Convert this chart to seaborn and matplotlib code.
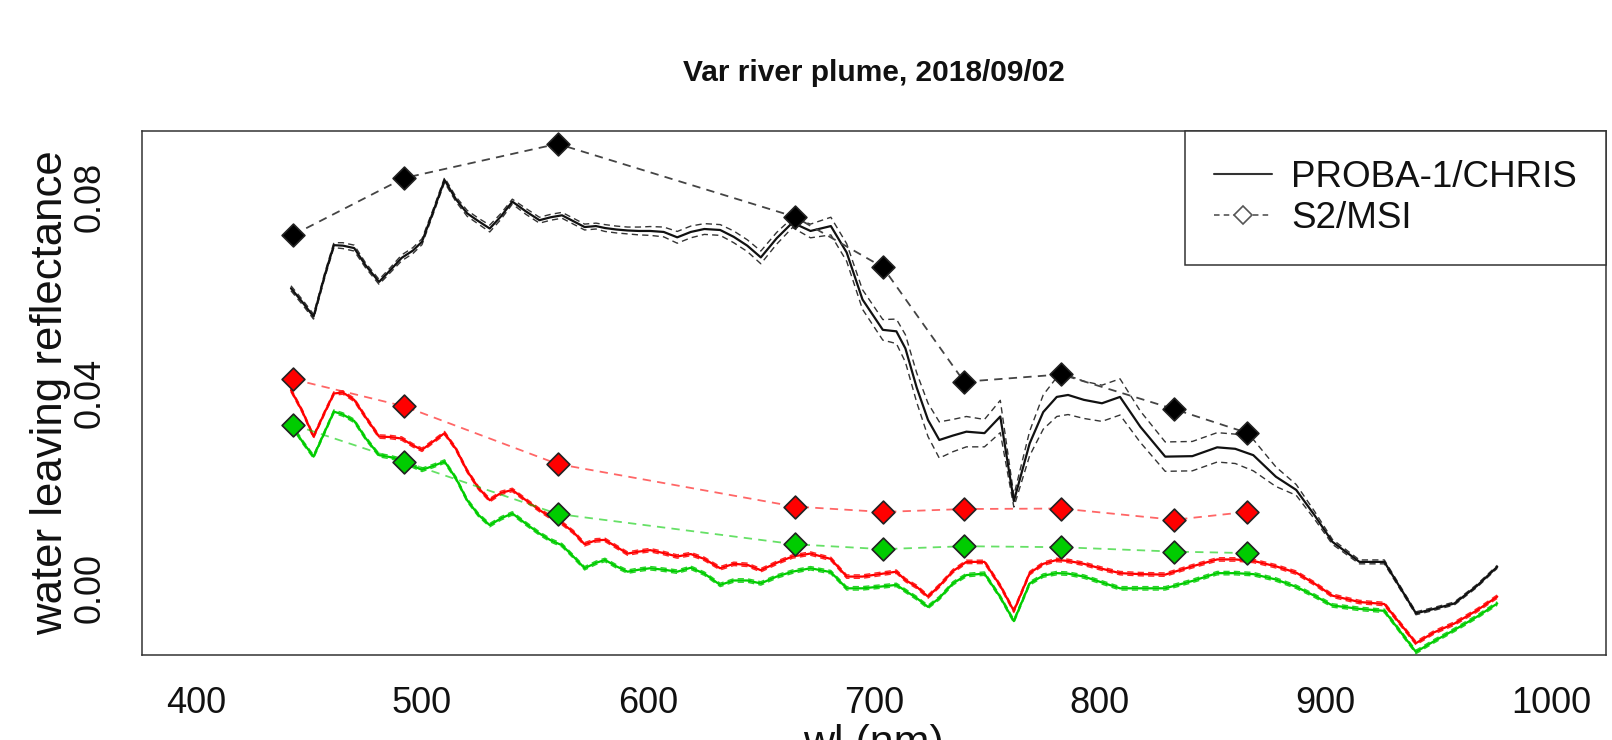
import numpy as np
import pandas as pd
import matplotlib
matplotlib.use("Agg")
import matplotlib.pyplot as plt
import seaborn as sns
from matplotlib.lines import Line2D

# ---------------- data ----------------
WL = [442, 447, 452, 457, 461, 465, 470, 475, 481, 486, 491, 496, 500, 505, 510,
      515, 520, 525, 530, 535, 540, 546, 552, 557, 562, 567, 572, 577, 581, 586,
      591, 596, 601, 607, 613, 619, 625, 632, 638, 644, 650, 657, 664, 672, 681,
      688, 695, 704, 710, 714, 719, 724, 729, 735, 741, 749, 756, 762, 769, 775,
      781, 786, 793, 801, 809, 818, 829, 841, 852, 860, 868, 878, 887, 895, 903,
      915, 926, 940, 948, 957, 967, 976]

CHRIS_BLACK = [0.0613, 0.0585, 0.0555, 0.0640, 0.0701, 0.0700, 0.0695, 0.0660, 0.0626, 0.0650,
               0.0675, 0.0690, 0.0708, 0.0770, 0.0834, 0.0795, 0.0766, 0.0750, 0.0735, 0.0760,
               0.0790, 0.0770, 0.0752, 0.0758, 0.0762, 0.0750, 0.0738, 0.0740, 0.0736, 0.0733,
               0.0731, 0.0730, 0.0730, 0.0728, 0.0717, 0.0728, 0.0734, 0.0732, 0.0718, 0.0700,
               0.0676, 0.0715, 0.0747, 0.0730, 0.0740, 0.0686, 0.0590, 0.0528, 0.0525, 0.0490,
               0.0410, 0.0344, 0.0303, 0.0312, 0.0320, 0.0317, 0.0351, 0.0178, 0.0296, 0.0360,
               0.0391, 0.0395, 0.0385, 0.0378, 0.0391, 0.0330, 0.0269, 0.0270, 0.0288, 0.0285,
               0.0272, 0.0228, 0.0201, 0.0150, 0.0095, 0.0054, 0.0054, -0.0051, -0.0042, -0.0031,
               0.0005, 0.0044]

CHRIS_BLACK_SD = [0.0005, 0.0005, 0.0005, 0.0005, 0.0005, 0.0006, 0.0006, 0.0005, 0.0005, 0.0005,
                  0.0006, 0.0006, 0.0006, 0.0005, 0.0005, 0.0005, 0.0006, 0.0006, 0.0007, 0.0006,
                  0.0005, 0.0006, 0.0006, 0.0006, 0.0006, 0.0006, 0.0006, 0.0006, 0.0007, 0.0007,
                  0.0007, 0.0008, 0.0009, 0.0010, 0.0012, 0.0012, 0.0011, 0.0011, 0.0012, 0.0012,
                  0.0013, 0.0012, 0.0010, 0.0014, 0.0018, 0.0018, 0.0020, 0.0021, 0.0025, 0.0028,
                  0.0030, 0.0034, 0.0037, 0.0033, 0.0031, 0.0028, 0.0033, 0.0012, 0.0025, 0.0035,
                  0.0040, 0.0040, 0.0038, 0.0037, 0.0037, 0.0032, 0.0030, 0.0030, 0.0030, 0.0030,
                  0.0032, 0.0020, 0.0011, 0.0008, 0.0005, 0.0004, 0.0004, 0.0003, 0.0003, 0.0003,
                  0.0003, 0.0003]

CHRIS_RED = [0.0405, 0.0362, 0.0310, 0.0360, 0.0398, 0.0400, 0.0385, 0.0350, 0.0310, 0.0309,
             0.0306, 0.0292, 0.0283, 0.0300, 0.0317, 0.0285, 0.0240, 0.0205, 0.0180, 0.0195,
             0.0201, 0.0180, 0.0160, 0.0145, 0.0133, 0.0115, 0.0090, 0.0098, 0.0099, 0.0085,
             0.0071, 0.0075, 0.0078, 0.0072, 0.0065, 0.0070, 0.0060, 0.0041, 0.0050, 0.0048,
             0.0037, 0.0052, 0.0065, 0.0071, 0.0060, 0.0024, 0.0024, 0.0030, 0.0034, 0.0017,
             0.0003, -0.0017, 0.0005, 0.0035, 0.0054, 0.0054, 0.0005, -0.0046, 0.0031, 0.0050,
             0.0058, 0.0056, 0.0050, 0.0040, 0.0031, 0.0029, 0.0028, 0.0045, 0.0059, 0.0059,
             0.0056, 0.0045, 0.0032, 0.0010, -0.0015, -0.0028, -0.0032, -0.0112, -0.0090, -0.0072,
             -0.0045, -0.0017]

CHRIS_GREEN = [0.0335, 0.0300, 0.0269, 0.0320, 0.0361, 0.0355, 0.0342, 0.0307, 0.0272, 0.0268,
               0.0262, 0.0250, 0.0242, 0.0250, 0.0259, 0.0225, 0.0180, 0.0150, 0.0129, 0.0143,
               0.0153, 0.0132, 0.0112, 0.0098, 0.0088, 0.0065, 0.0041, 0.0052, 0.0058, 0.0045,
               0.0034, 0.0038, 0.0041, 0.0038, 0.0034, 0.0042, 0.0030, 0.0007, 0.0016, 0.0016,
               0.0010, 0.0024, 0.0034, 0.0041, 0.0033, 0.0000, 0.0000, 0.0004, 0.0007, -0.0005,
               -0.0020, -0.0038, -0.0020, 0.0010, 0.0027, 0.0030, -0.0018, -0.0067, 0.0010, 0.0026,
               0.0031, 0.0030, 0.0024, 0.0012, 0.0000, 0.0000, 0.0000, 0.0015, 0.0031, 0.0031,
               0.0029, 0.0018, 0.0003, -0.0015, -0.0035, -0.0042, -0.0046, -0.0130, -0.0108, -0.0085,
               -0.0058, -0.0031]

CHRIS_RED_SD = 0.00035
CHRIS_GREEN_SD = 0.00035

S2_WL = [443, 492, 560, 665, 704, 740, 783, 833, 865]
S2_BLACK = [0.0722, 0.0838, 0.0908, 0.0759, 0.0656, 0.0422, 0.0437, 0.0366, 0.0318]
S2_RED = [0.0427, 0.0372, 0.0254, 0.0167, 0.0156, 0.0162, 0.0163, 0.0140, 0.0156]
S2_GREEN = [0.0334, 0.0259, 0.0152, 0.0090, 0.0080, 0.0086, 0.0084, 0.0075, 0.0072]

XTICKS = [400, 500, 600, 700, 800, 900, 1000]
YTICKS = [0.00, 0.02, 0.04, 0.06, 0.08]
YTICK_LABELS = ["0.00", "", "0.04", "", "0.08"]

TITLE = "Var river plume, 2018/09/02"
XLABEL = "wl (nm)"
YLABEL = "water leaving reflectance"
LEGEND_LABELS = ["PROBA-1/CHRIS", "S2/MSI"]

# ---------------- style ----------------
sns.set_theme(style="white")
plt.rcParams['font.family'] = ['Liberation Sans', 'DejaVu Sans']
plt.rcParams['lines.scale_dashes'] = False

RED = "#ff0000"
GREEN = "#00cc00"
BLACK = "#111111"

fig = plt.figure(figsize=(16.12, 7.4), dpi=100)
ax = fig.add_axes([0.0880, 0.1150, 0.9081, 0.7085])

chris = pd.DataFrame({"wl": WL, "black": CHRIS_BLACK, "bsd": CHRIS_BLACK_SD,
                      "red": CHRIS_RED, "green": CHRIS_GREEN})
s2 = pd.DataFrame({"wl": S2_WL, "black": S2_BLACK, "red": S2_RED, "green": S2_GREEN})

env_ls = (0, (4.5, 3))
s2_ls = (0, (6, 4.5))

# CHRIS spectra with +/- envelopes
for col, color, sd in [("black", BLACK, chris["bsd"]),
                       ("red", RED, CHRIS_RED_SD),
                       ("green", GREEN, CHRIS_GREEN_SD)]:
    sns.lineplot(x=chris["wl"], y=chris[col] + sd, ax=ax, color=color, lw=1.0,
                 linestyle=env_ls, estimator=None, sort=False, alpha=0.85)
    sns.lineplot(x=chris["wl"], y=chris[col] - sd, ax=ax, color=color, lw=1.0,
                 linestyle=env_ls, estimator=None, sort=False, alpha=0.85)
    sns.lineplot(x=chris["wl"], y=chris[col], ax=ax, color=color, lw=1.6,
                 estimator=None, sort=False)

# S2/MSI dashed lines and diamonds
for col, line_c, fill_c, a in [("black", "#444444", "#000000", 1.0),
                               ("red", RED, RED, 0.6),
                               ("green", GREEN, GREEN, 0.6)]:
    sns.lineplot(x=s2["wl"], y=s2[col], ax=ax, color=line_c, lw=1.3,
                 linestyle=s2_ls, estimator=None, sort=False, alpha=a)
    sns.scatterplot(x=s2["wl"], y=s2[col], ax=ax, marker="D", s=135,
                    color=fill_c, edgecolor="#222222", linewidth=1.2, zorder=5)

# axes
ax.set_xlim(376, 1024)
ax.set_ylim(-0.0136, 0.0935)
ax.set_xticks(XTICKS)
ax.set_xticklabels([str(t) for t in XTICKS])
ax.set_yticks(YTICKS)
ax.set_yticklabels(YTICK_LABELS)
ax.tick_params(axis="both", direction="out", length=9.4, width=1.0,
               color="#333333", labelsize=26, labelcolor="#111111")
ax.tick_params(axis="x", pad=13)
ax.tick_params(axis="y", pad=15)
for lab in ax.get_yticklabels():
    lab.set_rotation(90)
    lab.set_va("center")
for sp in ax.spines.values():
    sp.set_visible(True)
    sp.set_color("#333333")
    sp.set_linewidth(1.1)

ax.set_xlabel(XLABEL, fontsize=31, color="#111111")
ax.xaxis.set_label_coords(0.5, -0.132)
ax.xaxis.label.set_va("top")
ax.set_ylabel(YLABEL, fontsize=31.5, color="#111111")
ax.yaxis.set_label_coords(-0.0485, 0.5)
ax.set_title(TITLE, fontsize=21.5, fontweight="bold", pad=36, color="#111111")

handles = [Line2D([], [], color="#333333", lw=1.5),
           Line2D([], [], color="#555555", lw=1.2, linestyle=(0, (4, 3)),
                  marker="D", markersize=9, markerfacecolor="white",
                  markeredgecolor="#555555", markeredgewidth=1.2)]
leg = ax.legend(handles, LEGEND_LABELS, loc="upper right", bbox_to_anchor=(1, 1),
                borderaxespad=0, fontsize=26.5, frameon=True, fancybox=False,
                edgecolor="#333333", framealpha=1, borderpad=0.79, labelspacing=0.16,
                handlelength=1.6, handletextpad=0.5)
leg.get_frame().set_linewidth(1.1)
for t in leg.get_texts():
    t.set_color("#111111")

fig.savefig("out.png", dpi=100, facecolor="white")
